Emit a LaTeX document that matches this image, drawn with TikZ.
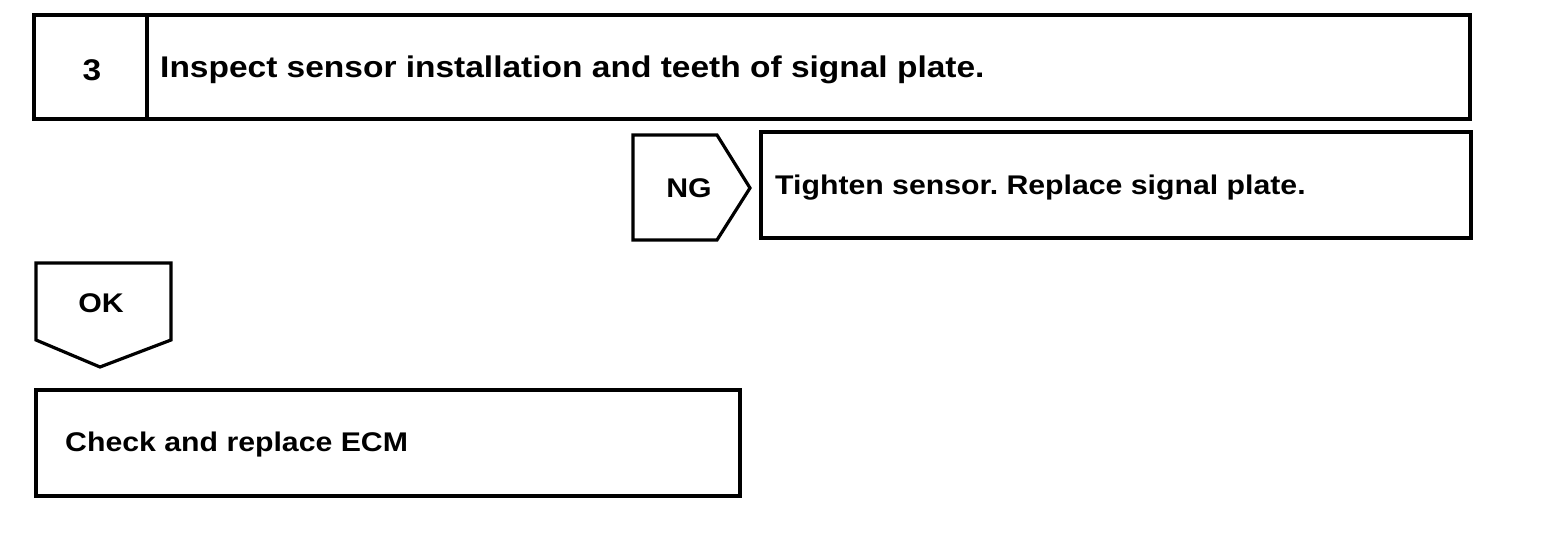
\documentclass[tikz,border=0pt]{standalone}
\usepackage{fontspec}
\setmainfont{Liberation Sans}[FakeStretch=1.12]
\usetikzlibrary{positioning}
\frenchspacing
\tikzset{box/.style={draw, line width=3.2pt, line join=miter},
  lbl/.style={font=\bfseries\fontsize{27}{32}\selectfont, inner sep=0pt},
  biglbl/.style={font=\bfseries\fontsize{29.9}{36}\selectfont, inner sep=0pt}}

\begin{document}
\begin{tikzpicture}[x=1pt,y=-1pt]
  \useasboundingbox (0,0) rectangle (1568,534);
  % step header
  \draw[box] (34,15) rectangle (1470,119);
  \draw[box] (147,15) -- (147,119);
  \node[biglbl] (num) at (92,70) {3};
  \node[biglbl, anchor=west] (inspect) at (160,70) {Inspect sensor installation and teeth of signal plate.};
  % NG branch
  \draw[box] (633,135) -- (717,135) -- (750,188) -- (717,240) -- (633,240) -- cycle;
  \node[lbl] (ng) at (689,188) {NG};
  \draw[box] (761,132) rectangle (1471,238);
  \node[lbl, anchor=west] (tighten) at (775,188) {Tighten sensor. Replace signal plate.};
  % OK branch
  \draw[box] (36,263) -- (171,263) -- (171,340) -- (100,367) -- (36,340) -- cycle;
  \node[lbl] (ok) at (101,303) {OK};
  \draw[box] (36,390) rectangle (740,496);
  \node[lbl, anchor=west] (ecm) at (65,445) {Check and replace ECM};
\end{tikzpicture}
\end{document}
